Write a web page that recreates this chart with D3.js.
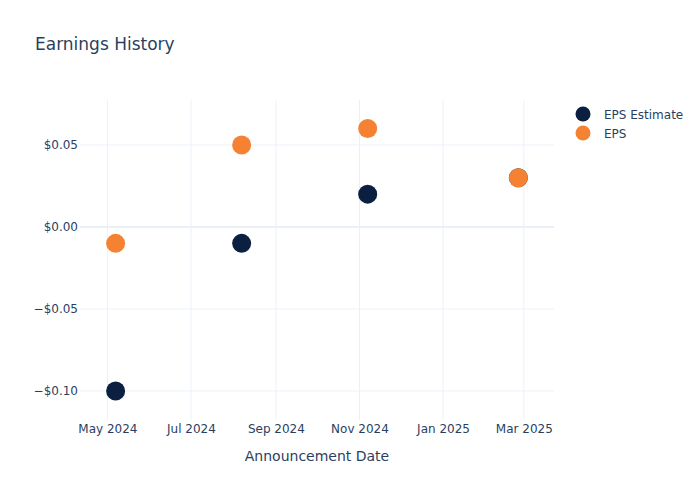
<!DOCTYPE html>
<html>
<head>
<meta charset="utf-8">
<script src="https://cdn.jsdelivr.net/npm/d3@7"></script>
<style>
  body { margin: 0; background: #fff; }
  text { font-family: "DejaVu Sans", "Open Sans", sans-serif; fill: #2a3f5f; }
</style>
</head>
<body>
<div id="chart"></div>
<script>
// announcement dates and values
var dates = ["2024-05-07", "2024-08-07", "2024-11-07", "2025-02-25"];
var epsEstimate = [-0.10, -0.01, 0.02, 0.03];
var eps = [-0.01, 0.05, 0.06, 0.03];
var seriesNames = ["EPS Estimate", "EPS"];
var seriesColors = ["#0b1f41", "#f58233"];
var yTicks = [-0.10, -0.05, 0, 0.05];
var xTicks = ["2024-05-01", "2024-07-01", "2024-09-01", "2024-11-01", "2025-01-01", "2025-03-01"];

var W = 700, H = 500;
var margin = {top: 100, right: 146, bottom: 80, left: 80},
    width = W - margin.left - margin.right,
    height = H - margin.top - margin.bottom;

var parse = d3.timeParse("%Y-%m-%d");

var svg = d3.select("#chart")
    .append("svg")
    .attr("width", W)
    .attr("height", H);

var g = svg.append("g")
    .attr("transform", "translate(" + margin.left + "," + margin.top + ")");

// x scale: date range with padding like the original
var x = d3.scaleTime()
    .domain([parse("2024-04-11"), parse("2025-03-23")])
    .range([0, width]);

var y = d3.scaleLinear()
    .domain([-0.1177, 0.0774])
    .range([height, 0]);

// grid
g.append("g")
    .selectAll("line")
    .data(xTicks.map(parse))
    .enter()
    .append("line")
    .attr("x1", d => x(d)).attr("x2", d => x(d))
    .attr("y1", 0).attr("y2", height)
    .attr("stroke", "#ebf0f8")
    .attr("stroke-width", 1);

g.append("g")
    .selectAll("line")
    .data(yTicks)
    .enter()
    .append("line")
    .attr("x1", 0).attr("x2", width)
    .attr("y1", d => y(d)).attr("y2", d => y(d))
    .attr("stroke", "#ebf0f8")
    .attr("stroke-width", d => d === 0 ? 2 : 1);

// axes (no domain line, no tick marks)
var fmtY = d => (d < 0 ? "\u2212$" : "$") + Math.abs(d).toFixed(2);

var axisY = d3.axisLeft(y).tickValues(yTicks).tickFormat(fmtY).tickSize(0).tickPadding(2);
var gy = g.append("g").call(axisY);
gy.select(".domain").remove();
gy.selectAll("text").style("font-size", "12px").style("font-family", "DejaVu Sans, sans-serif").attr("fill", "#2a3f5f");

var axisX = d3.axisBottom(x).tickValues(xTicks.map(parse)).tickFormat(d3.timeFormat("%b %Y")).tickSize(0).tickPadding(4);
var gx = g.append("g").attr("transform", "translate(0," + height + ")").call(axisX);
gx.select(".domain").remove();
gx.selectAll("text").style("font-size", "12px").style("font-family", "DejaVu Sans, sans-serif").attr("fill", "#2a3f5f");

// points
var series = [epsEstimate, eps];
series.forEach(function(vals, s) {
    g.append("g")
        .selectAll("circle")
        .data(vals.map((v, i) => ({date: parse(dates[i]), value: v})))
        .enter()
        .append("circle")
        .attr("cx", d => x(d.date))
        .attr("cy", d => y(d.value))
        .attr("r", 9.5)
        .attr("fill", seriesColors[s]);
});

// title
svg.append("text")
    .attr("x", 35)
    .attr("y", 50)
    .style("font-size", "17px")
    .text("Earnings History");

// x axis title
svg.append("text")
    .attr("x", margin.left + width / 2)
    .attr("y", 461)
    .attr("text-anchor", "middle")
    .style("font-size", "14px")
    .text("Announcement Date");

// legend
var legend = svg.append("g").attr("transform", "translate(583,114)");
seriesNames.forEach(function(name, i) {
    legend.append("circle")
        .attr("cx", 0)
        .attr("cy", i * 19)
        .attr("r", 7.5)
        .attr("fill", seriesColors[i]);
    legend.append("text")
        .attr("x", 21)
        .attr("y", i * 19 + 4.5)
        .style("font-size", "12px")
        .text(name);
});
</script>
</body>
</html>
